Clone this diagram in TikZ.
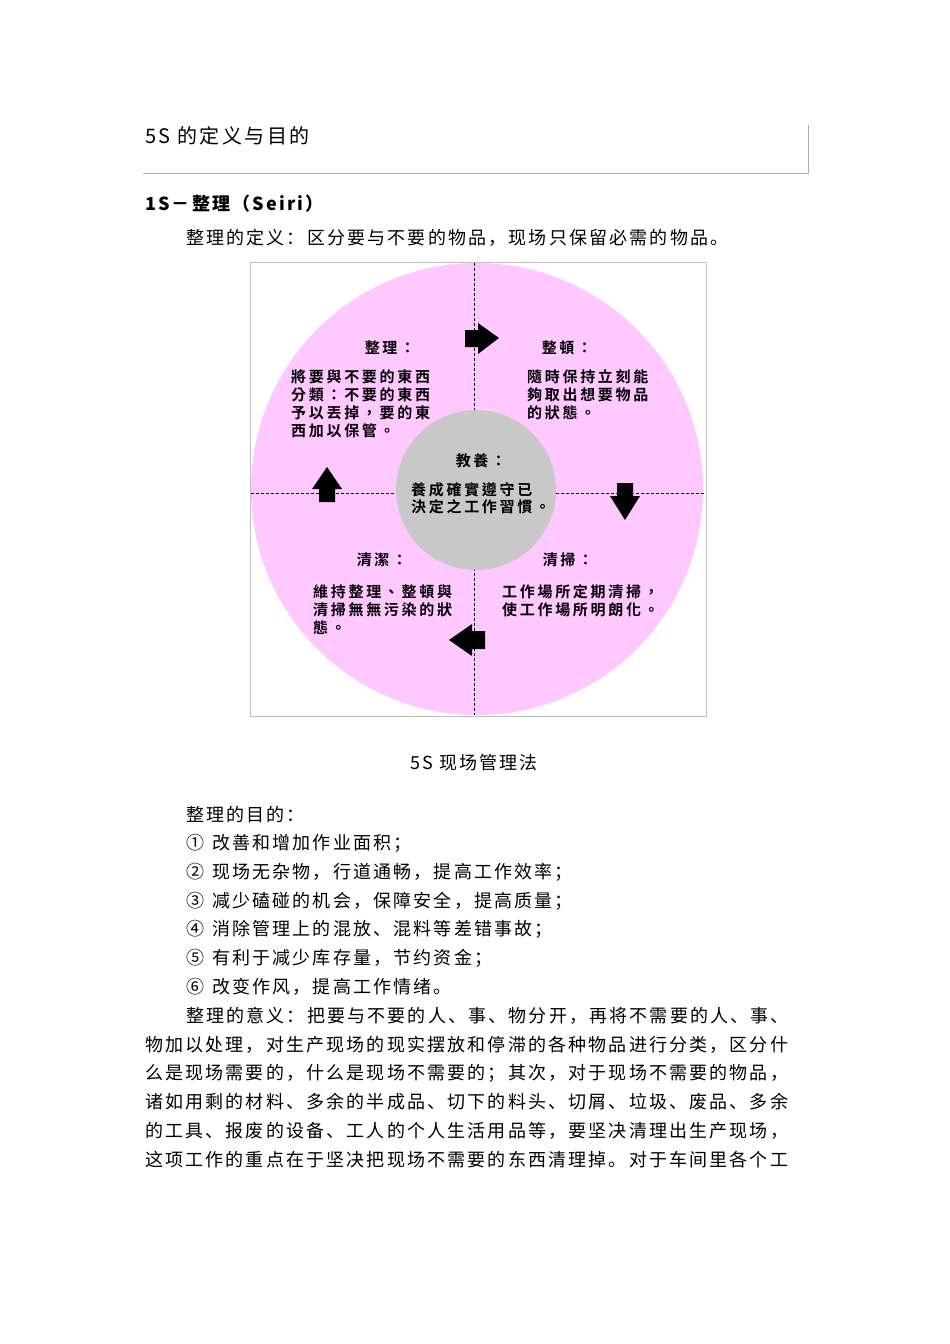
\documentclass[tikz,border=0pt]{standalone}
\usepackage{fontspec}
\setmainfont{Noto Sans CJK SC}[LetterSpace=12]
\newfontfamily\tcfont{Noto Sans CJK TC}[BoldFont={* Bold},LetterSpace=18]
\begin{document}
\begin{tikzpicture}[x=1pt,y=-1pt,
  body/.style={anchor=west,inner sep=0pt,font=\fontsize{18}{18}\selectfont},
  ctext/.style={anchor=west,inner sep=0pt,font=\tcfont\bfseries\fontsize{15}{15}\selectfont},
  chead/.style={inner sep=0pt,font=\tcfont\bfseries\fontsize{15}{15}\selectfont},
  blk/.style={fill=black,draw=none}]
\useasboundingbox (0,0) rectangle (950,1344);
\fill[white] (0,0) rectangle (950,1344);
% title box
\draw[gray!60] (143,173) -- (808,173) -- (808,125);
\node[body,font=\fontsize{20}{20}\selectfont] (title) at (145,136) {5S 的定义与目的};
\node[body,font=\bfseries\fontsize{18}{18}\selectfont] (h1) at (145,204) {1S－整理（Seiri）};
\node[body] (def) at (186,238) {整理的定义：区分要与不要的物品，现场只保留必需的物品。};
% diagram
\draw[gray!50] (250,262) rectangle (706,716);
\fill[fill={rgb,255:red,255;green,200;blue,255}] (477,489) circle (226);
\draw[black,densely dashed,line width=0.6pt] (474,263) -- (474,715);
\draw[black,densely dashed,line width=0.6pt] (251,493) -- (705,493);
\fill[fill={rgb,255:red,200;green,200;blue,200}] (476,490) circle (80);
% arrows
\fill[blk] (465,330) -- (478,330) -- (478,323) -- (499,338) -- (478,354) -- (478,347) -- (465,347) -- cycle;
\fill[blk] (617,483) -- (633,483) -- (633,496) -- (640,496) -- (625,520) -- (610,496) -- (617,496) -- cycle;
\fill[blk] (485,631) -- (485,649) -- (472,649) -- (472,656) -- (449,640) -- (472,624) -- (472,631) -- cycle;
\fill[blk] (319,502) -- (335,502) -- (335,489) -- (342,489) -- (327,467) -- (312,489) -- (319,489) -- cycle;
% texts
\node[chead] (z1) at (390,348) {整理：};
\node[ctext] (z1a) at (291,377) {將要與不要的東西};
\node[ctext] (z1b) at (291,395) {分類：不要的東西};
\node[ctext] (z1c) at (291,413) {予以丟掉，要的東};
\node[ctext] (z1d) at (291,431) {西加以保管。};
\node[chead] (z2) at (567,348) {整頓：};
\node[ctext] (z2a) at (527,377) {隨時保持立刻能};
\node[ctext] (z2b) at (527,395) {夠取出想要物品};
\node[ctext] (z2c) at (527,413) {的狀態。};
\node[chead] (z5) at (481,461) {教養：};
\node[ctext] (z5a) at (411,490) {養成確實遵守已};
\node[ctext] (z5b) at (411,507) {決定之工作習慣。};
\node[chead] (z4) at (382,560) {清潔：};
\node[ctext] (z4a) at (313,592) {維持整理、整頓與};
\node[ctext] (z4b) at (313,610) {清掃無無污染的狀};
\node[ctext] (z4c) at (313,628) {態。};
\node[chead] (z3) at (568,560) {清掃：};
\node[ctext] (z3a) at (502,592) {工作場所定期清掃，};
\node[ctext] (z3b) at (502,610) {使工作場所明朗化。};
\node[body,anchor=center] (cap) at (474,763) {5S 现场管理法};
% purposes
\node[body] (p0) at (186,815) {整理的目的：};
\node[body] (p1) at (186,843) {①\hspace{8pt}改善和增加作业面积；};
\node[body] (p2) at (186,872) {②\hspace{8pt}现场无杂物，行道通畅，提高工作效率；};
\node[body] (p3) at (186,901) {③\hspace{8pt}减少磕碰的机会，保障安全，提高质量；};
\node[body] (p4) at (186,929) {④\hspace{8pt}消除管理上的混放、混料等差错事故；};
\node[body] (p5) at (186,958) {⑤\hspace{8pt}有利于减少库存量，节约资金；};
\node[body] (p6) at (186,987) {⑥\hspace{8pt}改变作风，提高工作情绪。};
\node[body] (q1) at (186,1016) {整理的意义：把要与不要的人、事、物分开，再将不需要的人、事、};
\node[body] (q2) at (145,1045) {物加以处理，对生产现场的现实摆放和停滞的各种物品进行分类，区分什};
\node[body] (q3) at (145,1073) {么是现场需要的，什么是现场不需要的；其次，对于现场不需要的物品，};
\node[body] (q4) at (145,1102) {诸如用剩的材料、多余的半成品、切下的料头、切屑、垃圾、废品、多余};
\node[body] (q5) at (145,1131) {的工具、报废的设备、工人的个人生活用品等，要坚决清理出生产现场，};
\node[body] (q6) at (145,1160) {这项工作的重点在于坚决把现场不需要的东西清理掉。对于车间里各个工};
\end{tikzpicture}
\end{document}
